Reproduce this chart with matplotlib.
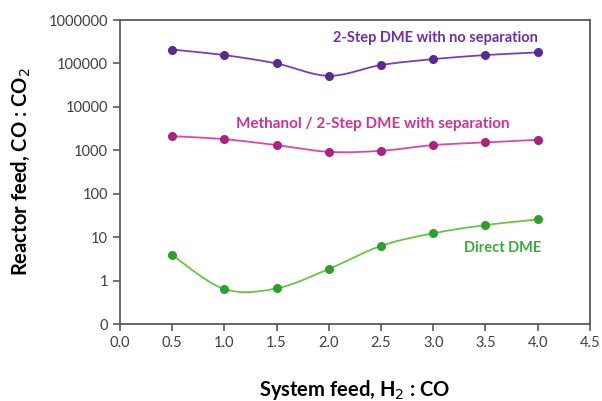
import numpy as np
import matplotlib
matplotlib.use("Agg")
import matplotlib.pyplot as plt
from matplotlib.ticker import FixedLocator, FixedFormatter

x_vals = [0.5, 1.0, 1.5, 2.0, 2.5, 3.0, 3.5, 4.0]
two_step_nosep = [209000, 156000, 100000, 52000, 92000, 126000, 156000, 180000]
methanol_sep = [2120, 1810, 1320, 923, 975, 1320, 1520, 1750]
direct_dme = [3.9, 0.64, 0.66, 1.85, 6.3, 12.3, 19, 25.6]

y_ticks = [0.1, 1, 10, 100, 1000, 10000, 100000, 1000000]
y_tick_labels = ["0", "1", "10", "100", "1000", "10000", "100000", "1000000"]
x_ticks = [0.0, 0.5, 1.0, 1.5, 2.0, 2.5, 3.0, 3.5, 4.0, 4.5]

plt.rcParams['font.family'] = ['Lato', 'DejaVu Sans']


def smooth(xs, ys, n=30):
    # Catmull-Rom spline in (x, log10 y) space, as a smoothed line
    xs = np.asarray(xs, float)
    ly = np.log10(np.asarray(ys, float))
    px = np.concatenate([[xs[0]], xs, [xs[-1]]])
    py = np.concatenate([[ly[0]], ly, [ly[-1]]])
    ox, oy = [], []
    for i in range(1, len(px) - 2):
        p0 = np.array([px[i - 1], py[i - 1]])
        p1 = np.array([px[i], py[i]])
        p2 = np.array([px[i + 1], py[i + 1]])
        p3 = np.array([px[i + 2], py[i + 2]])
        c1 = p1 + (p2 - p0) / 6.0
        c2 = p2 - (p3 - p1) / 6.0
        t = np.linspace(0, 1, n)[:, None]
        pts = ((1 - t) ** 3) * p1 + 3 * ((1 - t) ** 2) * t * c1 + 3 * (1 - t) * t ** 2 * c2 + t ** 3 * p2
        ox.extend(pts[:, 0]); oy.extend(pts[:, 1])
    return np.array(ox), 10 ** np.array(oy)


fig = plt.figure(figsize=(6.02, 4.01), dpi=100)
ax = fig.add_axes([0.199, 0.192, 0.781, 0.758])
ax.set_yscale('log')

series = [
    (two_step_nosep, '#7B3FB0', '#5A2A8C'),
    (methanol_sep, '#D94AA8', '#A8237F'),
    (direct_dme, '#6CC24A', '#2E9E2E'),
]
for ys, lc, mc in series:
    sx, sy = smooth(x_vals, ys)
    ax.plot(sx, sy, color=lc, lw=1.3, zorder=2)
    ax.plot(x_vals, ys, 'o', color=mc, markersize=5.5, markeredgecolor=mc, zorder=3)

ax.set_xlim(0, 4.5)
ax.set_ylim(0.1, 1000000)
ax.yaxis.set_major_locator(FixedLocator(y_ticks))
ax.yaxis.set_major_formatter(FixedFormatter(y_tick_labels))
ax.yaxis.set_minor_locator(FixedLocator([]))
ax.set_xticks(x_ticks)
ax.set_xticklabels([f"{v:.1f}" for v in x_ticks])


def ypix_to_axes(py):
    return (324 - py) / (324 - 20)


tr = ax.get_xaxis_transform()
ax.text(3.02, ypix_to_axes(38), "2-Step DME with no separation", color='#7030A0',
        fontsize=10.5, fontweight='bold', ha='center', va='center', transform=tr)
ax.text(2.42, ypix_to_axes(124), "Methanol / 2-Step DME with separation", color='#CC3399',
        fontsize=11, fontweight='bold', ha='center', va='center', transform=tr)
ax.text(3.66, ypix_to_axes(248), "Direct DME", color='#3DAA3D',
        fontsize=10.5, fontweight='bold', ha='center', va='center', transform=tr)

for s in ax.spines.values():
    s.set_color('#595959')
    s.set_linewidth(1.3)
ax.tick_params(axis='both', direction='out', length=5, width=1.2, color='#595959',
               labelsize=10.5, labelcolor='#404040')

ax.set_xlabel("System feed, H$_2$ : CO", fontsize=14.5, fontweight='bold', labelpad=20)
ax.set_ylabel("Reactor feed, CO : CO$_2$", fontsize=14.5, fontweight='bold', labelpad=12)

fig.savefig("out.png", dpi=100)
